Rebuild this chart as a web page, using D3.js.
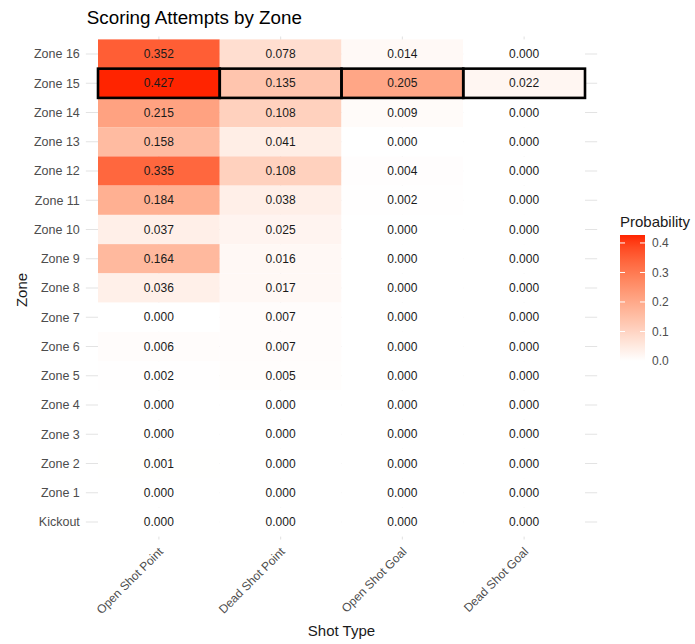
<!DOCTYPE html>
<html>
<head>
<meta charset="utf-8">
<script src="https://cdn.jsdelivr.net/npm/d3@7"></script>
<style>
  html, body { margin: 0; padding: 0; background: #fff; }
  svg { display: block; font-family: "Liberation Sans", Arial, sans-serif; }
</style>
</head>
<body>
<svg id="chart" width="695" height="644"></svg>
<script>
// Shot types (columns) and zones (rows, top to bottom)
const shotTypes = ["Open Shot Point", "Dead Shot Point", "Open Shot Goal", "Dead Shot Goal"];
const zones = ["Zone 16", "Zone 15", "Zone 14", "Zone 13", "Zone 12", "Zone 11", "Zone 10",
  "Zone 9", "Zone 8", "Zone 7", "Zone 6", "Zone 5", "Zone 4", "Zone 3", "Zone 2", "Zone 1", "Kickout"];

// Probability of each shot type per zone, same order as zones
const openShotPoint = [0.352, 0.427, 0.215, 0.158, 0.335, 0.184, 0.037, 0.164, 0.036, 0.000, 0.006, 0.002, 0.000, 0.000, 0.001, 0.000, 0.000];
const deadShotPoint = [0.078, 0.135, 0.108, 0.041, 0.108, 0.038, 0.025, 0.016, 0.017, 0.007, 0.007, 0.005, 0.000, 0.000, 0.000, 0.000, 0.000];
const openShotGoal  = [0.014, 0.205, 0.009, 0.000, 0.004, 0.002, 0.000, 0.000, 0.000, 0.000, 0.000, 0.000, 0.000, 0.000, 0.000, 0.000, 0.000];
const deadShotGoal  = [0.000, 0.022, 0.000, 0.000, 0.000, 0.000, 0.000, 0.000, 0.000, 0.000, 0.000, 0.000, 0.000, 0.000, 0.000, 0.000, 0.000];

const highlightZone = "Zone 15";
const legendTicks = [0.0, 0.1, 0.2, 0.3, 0.4];

const series = [openShotPoint, deadShotPoint, openShotGoal, deadShotGoal];
const cells = [];
shotTypes.forEach((s, i) => zones.forEach((z, j) => cells.push({ shot: s, zone: z, value: series[i][j] })));

const svg = d3.select("#chart");

// Panel geometry
const tileLeft = 98, tileRight = 585, tileTop = 39.4, tileBottom = 536.6;
const x = d3.scaleBand().domain(shotTypes).range([tileLeft, tileRight]).padding(0);
const y = d3.scaleBand().domain(zones).range([tileTop, tileBottom]).padding(0);
const panelPadX = x.bandwidth() * 0.1, panelPadY = y.bandwidth() * 0.1;
const panel = { left: tileLeft - panelPadX, right: tileRight + panelPadX, top: tileTop - panelPadY, bottom: tileBottom + panelPadY };

const maxVal = d3.max(cells, d => d.value);
const color = d3.scaleLinear().domain([0, maxVal]).range(["#ffffff", "#ff2400"]).interpolate(d3.interpolateLab);

// Grid lines (behind tiles)
const grid = svg.append("g").attr("stroke", "#e3e3e3").attr("stroke-width", 1.1);
grid.selectAll("line.h").data(zones).join("line")
  .attr("x1", panel.left).attr("x2", panel.right)
  .attr("y1", d => y(d) + y.bandwidth() / 2).attr("y2", d => y(d) + y.bandwidth() / 2);
grid.selectAll("line.v").data(shotTypes).join("line")
  .attr("y1", panel.top).attr("y2", panel.bottom)
  .attr("x1", d => x(d) + x.bandwidth() / 2).attr("x2", d => x(d) + x.bandwidth() / 2);

// Tiles
svg.append("g").selectAll("rect").data(cells).join("rect")
  .attr("x", d => x(d.shot)).attr("y", d => y(d.zone))
  .attr("width", x.bandwidth()).attr("height", y.bandwidth())
  .attr("fill", d => color(d.value));

// Highlighted row outlines
svg.append("g").selectAll("rect").data(cells.filter(d => d.zone === highlightZone)).join("rect")
  .attr("x", d => x(d.shot)).attr("y", d => y(d.zone))
  .attr("width", x.bandwidth()).attr("height", y.bandwidth())
  .attr("fill", "none").attr("stroke", "#000").attr("stroke-width", 2.6);

// Value labels
svg.append("g").selectAll("text").data(cells).join("text")
  .attr("x", d => x(d.shot) + x.bandwidth() / 2)
  .attr("y", d => y(d.zone) + y.bandwidth() / 2)
  .attr("dy", "0.35em").attr("text-anchor", "middle")
  .attr("font-size", 12).attr("fill", "#1a1a1a")
  .text(d => d.value.toFixed(3));

// Y axis labels
svg.append("g").selectAll("text").data(zones).join("text")
  .attr("x", panel.left - 6).attr("y", d => y(d) + y.bandwidth() / 2)
  .attr("dy", "0.35em").attr("text-anchor", "end")
  .attr("font-size", 12.5).attr("fill", "#4d4d4d").text(d => d);

// X axis labels, rotated 45 degrees
svg.append("g").selectAll("text").data(shotTypes).join("text")
  .attr("transform", d => `translate(${x(d) + x.bandwidth() / 2 - 1},${panel.bottom + 7}) rotate(-45)`)
  .attr("dy", "0.7em").attr("text-anchor", "end")
  .attr("font-size", 12).attr("fill", "#4d4d4d").text(d => d);

// Axis titles
svg.append("text").attr("x", (panel.left + panel.right) / 2).attr("y", 636)
  .attr("text-anchor", "middle").attr("font-size", 15).attr("fill", "#1a1a1a").text("Shot Type");
svg.append("text").attr("transform", `translate(27,${(panel.top + panel.bottom) / 2 + 2}) rotate(-90)`)
  .attr("text-anchor", "middle").attr("font-size", 15).attr("fill", "#1a1a1a").text("Zone");

// Title
svg.append("text").attr("x", panel.left + 1).attr("y", 24)
  .attr("font-size", 18.8).attr("fill", "#000").text("Scoring Attempts by Zone");

// Colour bar legend
const barX = 620, barW = 25;
const ly = d3.scaleLinear().domain([0, maxVal]).range([361, 235]);
const defs = svg.append("defs");
const grad = defs.append("linearGradient").attr("id", "probGrad")
  .attr("x1", 0).attr("y1", 1).attr("x2", 0).attr("y2", 0);
d3.range(0, 1.0001, 0.05).forEach(t => grad.append("stop")
  .attr("offset", t).attr("stop-color", color(t * maxVal)));
svg.append("rect").attr("x", barX).attr("y", ly(maxVal))
  .attr("width", barW).attr("height", ly(0) - ly(maxVal)).attr("fill", "url(#probGrad)");
const lg = svg.append("g");
lg.selectAll("line.l").data(legendTicks).join("line")
  .attr("x1", barX).attr("x2", barX + 5).attr("y1", d => ly(d)).attr("y2", d => ly(d))
  .attr("stroke", "#fff").attr("stroke-width", 1);
lg.selectAll("line.r").data(legendTicks).join("line")
  .attr("x1", barX + barW - 5).attr("x2", barX + barW).attr("y1", d => ly(d)).attr("y2", d => ly(d))
  .attr("stroke", "#fff").attr("stroke-width", 1);
lg.selectAll("text").data(legendTicks).join("text")
  .attr("x", barX + barW + 7).attr("y", d => ly(d)).attr("dy", "0.35em")
  .attr("font-size", 12).attr("fill", "#4d4d4d").text(d => d.toFixed(1));
svg.append("text").attr("x", barX).attr("y", 227)
  .attr("font-size", 15).attr("fill", "#1a1a1a").text("Probability");
</script>
</body>
</html>
